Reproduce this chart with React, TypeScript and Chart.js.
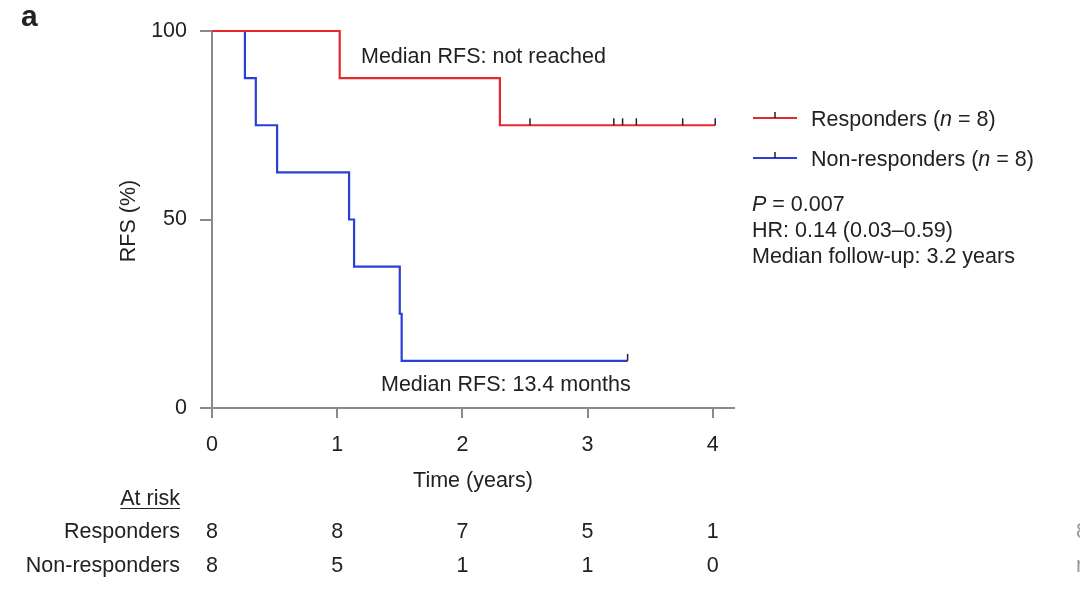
import { useEffect, useRef } from "react"
import { Chart, registerables } from "chart.js"

Chart.register(...registerables)

// Kaplan-Meier steps (time in years, RFS in %)
const respTimes = [0, 1.02, 2.3, 4.02]
const respSurv = [100, 87.5, 75, 75]
const nonTimes = [0, 0.263, 0.35, 0.52, 1.095, 1.135, 1.5, 1.515, 3.32]
const nonSurv = [100, 87.5, 75, 62.5, 50, 37.5, 25, 12.5, 12.5]

// censored observations
const respCensor = [2.54, 3.21, 3.28, 3.39, 3.76, 4.02]
const respCensorLevel = 75
const nonCensor = [3.32]
const nonCensorLevel = 12.5

const xTicks = [0, 1, 2, 3, 4]
const yTicks = [0, 50, 100]

// number at risk at each x tick
const riskResponders = [8, 8, 7, 5, 1]
const riskNonResponders = [8, 5, 1, 1, 0]

const RED = "#e5282f"
const BLUE = "#2c3ed8"
const AXIS = "#8a8a8a"
const TEXT = "#222222"
const FONT = "'Liberation Sans', Arial, sans-serif"
const SIZE = 21.5

function richText(ctx: CanvasRenderingContext2D, parts: [string, boolean][], x: number, y: number) {
  let cx = x
  for (const [txt, italic] of parts) {
    ctx.font = `${italic ? "italic " : ""}${SIZE}px ${FONT}`
    ctx.fillText(txt, cx, y)
    cx += ctx.measureText(txt).width
  }
}

const overlay = {
  id: "kmOverlay",
  afterDraw(chart: any) {
    const { ctx, chartArea } = chart
    const xs = chart.scales.x
    const ys = chart.scales.y
    ctx.save()

    // censor marks
    ctx.strokeStyle = TEXT
    ctx.lineWidth = 1.5
    const marks = (times: number[], level: number) => {
      const py = ys.getPixelForValue(level)
      for (const t of times) {
        const px = xs.getPixelForValue(t)
        ctx.beginPath()
        ctx.moveTo(px, py)
        ctx.lineTo(px, py - 7)
        ctx.stroke()
      }
    }
    marks(respCensor, respCensorLevel)
    marks(nonCensor, nonCensorLevel)

    ctx.fillStyle = TEXT
    ctx.textBaseline = "alphabetic"

    // panel letter
    ctx.font = `bold 30px ${FONT}`
    ctx.textAlign = "left"
    ctx.fillText("a", 21, 26)

    ctx.font = `${SIZE}px ${FONT}`
    ctx.fillText("Median RFS: not reached", 361, 63)
    ctx.fillText("Median RFS: 13.4 months", 381, 391)

    // axis titles
    ctx.textAlign = "center"
    ctx.fillText("Time (years)", (chartArea.left + chartArea.right) / 2, 487)
    ctx.save()
    ctx.translate(134.5, 221)
    ctx.rotate(-Math.PI / 2)
    ctx.fillText("RFS (%)", 0, 0)
    ctx.restore()

    // legend
    const legendRow = (color: string, ly: number, label: string) => {
      ctx.strokeStyle = color
      ctx.lineWidth = 2.2
      ctx.beginPath()
      ctx.moveTo(753, ly)
      ctx.lineTo(797, ly)
      ctx.stroke()
      ctx.strokeStyle = TEXT
      ctx.lineWidth = 1.5
      ctx.beginPath()
      ctx.moveTo(775, ly)
      ctx.lineTo(775, ly - 6)
      ctx.stroke()
      ctx.textAlign = "left"
      richText(ctx, [[label + " (", false], ["n", true], [" = 8)", false]], 811, ly + 7.5)
    }
    legendRow(RED, 118, "Responders")
    legendRow(BLUE, 158, "Non-responders")

    ctx.textAlign = "left"
    richText(ctx, [["P", true], [" = 0.007", false]], 752, 211)
    ctx.font = `${SIZE}px ${FONT}`
    ctx.fillText("HR: 0.14 (0.03\u20130.59)", 752, 237)
    ctx.fillText("Median follow-up: 3.2 years", 752, 263)

    // at-risk table
    ctx.textAlign = "right"
    ctx.fillText("At risk", 180, 505)
    const w = ctx.measureText("At risk").width
    ctx.strokeStyle = TEXT
    ctx.lineWidth = 1.2
    ctx.beginPath()
    ctx.moveTo(180 - w, 508.5)
    ctx.lineTo(180, 508.5)
    ctx.stroke()
    ctx.fillText("Responders", 180, 538)
    ctx.fillText("Non-responders", 180, 572)
    ctx.textAlign = "center"
    xTicks.forEach((t, i) => {
      const px = xs.getPixelForValue(t)
      ctx.fillText(String(riskResponders[i]), px, 538)
      ctx.fillText(String(riskNonResponders[i]), px, 572)
    })

    // clipped text from the neighbouring panel
    ctx.fillStyle = "#9a9a9a"
    ctx.textAlign = "left"
    ctx.fillText("8", 1076, 538)
    ctx.fillText("n", 1076, 572)

    ctx.restore()
  },
}

export default function App() {
  const chartRef = useRef<HTMLCanvasElement>(null)
  const chartInstance = useRef<Chart | null>(null)

  useEffect(() => {
    if (!chartRef.current) return
    if (chartInstance.current) chartInstance.current.destroy()
    const ctx = chartRef.current.getContext("2d")
    if (!ctx) return

    Chart.defaults.font.family = FONT
    Chart.defaults.color = TEXT

    chartInstance.current = new Chart(ctx, {
      type: "scatter",
      data: {
        datasets: [
          {
            label: "Responders",
            data: respTimes.map((t, i) => ({ x: t, y: respSurv[i] })),
            borderColor: RED,
            borderWidth: 2.2,
            showLine: true,
            stepped: true,
            pointRadius: 0,
            clip: false,
          },
          {
            label: "Non-responders",
            data: nonTimes.map((t, i) => ({ x: t, y: nonSurv[i] })),
            borderColor: BLUE,
            borderWidth: 2.2,
            showLine: true,
            stepped: true,
            pointRadius: 0,
            clip: false,
          },
        ],
      },
      options: {
        responsive: false,
        animation: false,
        layout: { padding: { left: 0, top: 31, right: 346, bottom: 133 } },
        plugins: { legend: { display: false }, tooltip: { enabled: false } },
        scales: {
          x: {
            type: "linear",
            min: 0,
            max: 4.17,
            afterBuildTicks: (s: any) => {
              s.ticks = xTicks.map((v) => ({ value: v }))
            },
            afterFit: (s: any) => {
              s.height = 60
            },
            ticks: { font: { size: SIZE }, color: TEXT, padding: 14, callback: (v: any) => String(v) },
            grid: { display: true, drawOnChartArea: false, drawTicks: true, tickLength: 10, color: AXIS, lineWidth: 2 },
            border: { display: true, color: AXIS, width: 2 },
          },
          y: {
            type: "linear",
            min: 0,
            max: 100,
            afterBuildTicks: (s: any) => {
              s.ticks = yTicks.map((v) => ({ value: v }))
            },
            afterFit: (s: any) => {
              s.width = 212
            },
            ticks: { font: { size: SIZE }, color: TEXT, padding: 13, callback: (v: any) => String(v) },
            grid: { display: true, drawOnChartArea: false, drawTicks: true, tickLength: 12, color: AXIS, lineWidth: 2 },
            border: { display: true, color: AXIS, width: 2 },
          },
        },
      },
      plugins: [overlay],
    })

    return () => {
      if (chartInstance.current) {
        chartInstance.current.destroy()
        chartInstance.current = null
      }
    }
  }, [])

  return (
    <div style={{ position: "absolute", left: 0, top: 0, width: 1080, height: 601, background: "#fff" }}>
      <canvas ref={chartRef} width={1080} height={601} />
    </div>
  )
}
